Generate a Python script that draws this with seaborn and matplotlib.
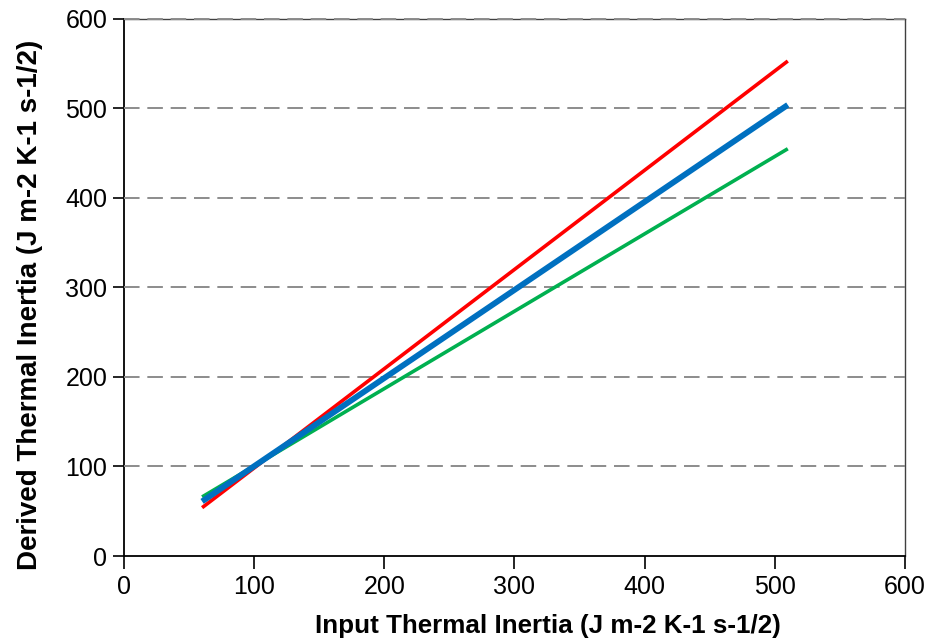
import matplotlib
matplotlib.use("Agg")
import matplotlib.pyplot as plt
import seaborn as sns
import pandas as pd

# Data
x_vals = [60, 510]
red_y = [54, 553]
green_y = [66, 455]
blue_y = [61, 504]
series_names = ["red", "green", "blue"]
series_colors = {"red": "#FF0000", "green": "#00B050", "blue": "#0070C0"}
series_widths = {"red": 2.6, "green": 2.6, "blue": 4.2}
x_ticks = [0, 100, 200, 300, 400, 500, 600]
y_ticks = [0, 100, 200, 300, 400, 500, 600]
grid_levels = [100, 200, 300, 400, 500, 600]
x_label = "Input Thermal Inertia (J m-2 K-1 s-1/2)"
y_label = "Derived Thermal Inertia (J m-2 K-1 s-1/2)"

sns.set_theme(style="white")
plt.rcParams["font.family"] = ["Liberation Sans", "DejaVu Sans"]

rows = []
for name, ys in zip(series_names, [red_y, green_y, blue_y]):
    for xv, yv in zip(x_vals, ys):
        rows.append({"x": xv, "y": yv, "series": name})
df = pd.DataFrame(rows)

fig = plt.figure(figsize=(9.31, 6.41), dpi=100)
ax = fig.add_axes([0.1332, 0.1326, 0.972 - 0.1332, 0.9704 - 0.1326])

for lvl in grid_levels:
    ax.axhline(lvl, color="#8C8C8C", lw=1.4, ls=(0, (8, 4)), zorder=2.6,
               clip_on=False)

for name in series_names:
    sub = df[df["series"] == name]
    sns.lineplot(data=sub, x="x", y="y", color=series_colors[name],
                 lw=series_widths[name], ax=ax, legend=False,
                 solid_capstyle="butt", zorder=3)

ax.set_xlim(0, 600)
ax.set_ylim(0, 600)
ax.set_xticks(x_ticks)
ax.set_yticks(y_ticks)
ax.set_xticklabels([str(t) for t in x_ticks])
ax.set_yticklabels([str(t) for t in y_ticks])
ax.tick_params(axis="both", colors="black", labelcolor="black", labelsize=18,
               width=1.2, direction="out", bottom=True, left=True)
ax.tick_params(axis="x", length=9, pad=5)
ax.tick_params(axis="y", length=8, pad=4)
for side in ["top", "right"]:
    ax.spines[side].set_visible(True)
    ax.spines[side].set_color("#404040")
    ax.spines[side].set_linewidth(1.0)
for side in ["left", "bottom"]:
    ax.spines[side].set_color("black")
    ax.spines[side].set_linewidth(1.3)

ax.set_xlabel(x_label, fontsize=18.7, fontweight="bold", color="black")
ax.set_ylabel(y_label, fontsize=20, fontweight="bold", color="black")
ax.xaxis.set_label_coords(0.543, -0.108)
ax.yaxis.set_label_coords(-0.104, 0.467)

fig.savefig("out.png", dpi=100)
